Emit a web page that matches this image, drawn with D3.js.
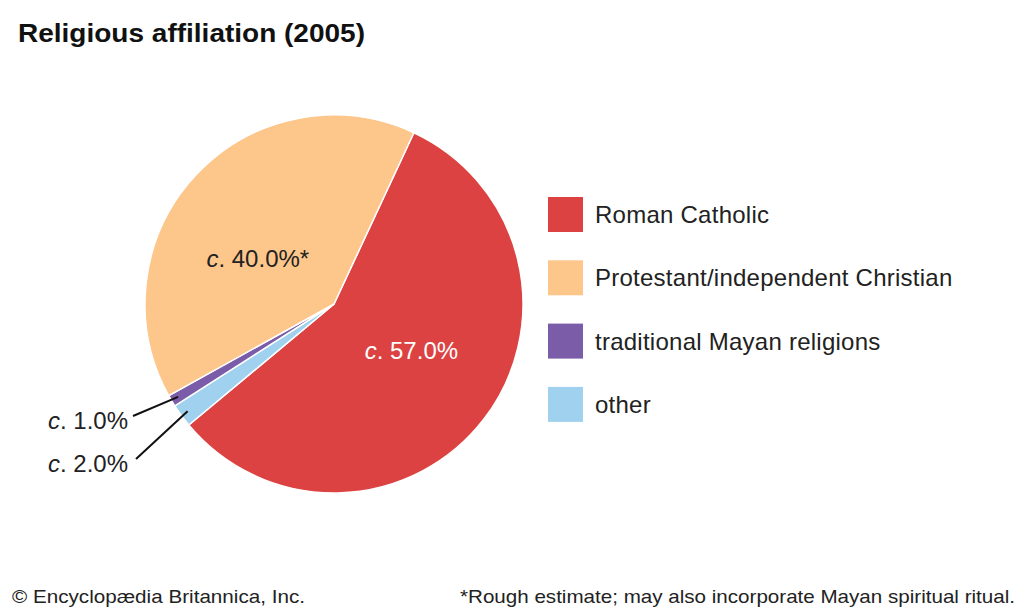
<!DOCTYPE html>
<html>
<head>
<meta charset="utf-8">
<script src="https://cdn.jsdelivr.net/npm/d3@7"></script>
<style>
  body { margin: 0; background: #fff; }
  text { font-family: "Liberation Sans", Arial, sans-serif; }
</style>
</head>
<body>
<script>
// slice order follows the picture, clockwise from the top-right boundary
const categories = ["Roman Catholic", "other", "traditional Mayan religions", "Protestant/independent Christian"];
const values = [57.0, 2.0, 1.0, 40.0];
const labels = ["57.0%", "2.0%", "1.0%", "40.0%*"];
const colors = ["#dc4242", "#a0d1ef", "#7a5ca8", "#fdc68b"];
const legendOrder = ["Roman Catholic", "Protestant/independent Christian", "traditional Mayan religions", "other"];

const W = 1024, H = 614;
const cx = 334, cy = 304, R = 189;

const svg = d3.select("body").append("svg")
  .attr("width", W)
  .attr("height", H);

svg.append("text")
  .attr("x", 18)
  .attr("y", 42)
  .attr("font-size", 26)
  .attr("font-weight", "bold")
  .attr("fill", "#111")
  .attr("textLength", 347)
  .attr("lengthAdjust", "spacingAndGlyphs")
  .text("Religious affiliation (2005)");

const startA = 25 * Math.PI / 180;
const pie = d3.pie()
  .sort(null)
  .startAngle(startA)
  .endAngle(startA + 2 * Math.PI)
  .value((d) => d);

const arcs = pie(values);
const arc = d3.arc().innerRadius(0).outerRadius(R);

const g = svg.append("g").attr("transform", `translate(${cx},${cy})`);

g.selectAll("path")
  .data(arcs)
  .enter()
  .append("path")
  .attr("d", arc)
  .attr("fill", (d, i) => colors[i])
  .attr("stroke", "#fff")
  .attr("stroke-width", 1.5);

// inside labels for the two big slices
const labelArc = d3.arc().innerRadius(R * 0.45).outerRadius(R * 0.45);

function addLabel(sel, txt, fill) {
  sel.append("tspan").attr("font-style", "italic").text("c");
  sel.append("tspan").text(". " + txt);
  sel.attr("fill", fill);
}

const inside = [
  { i: 0, dx: 10, dy: 3, fill: "#fff" },
  { i: 3, dx: -14, dy: 21, fill: "#222" }
];

inside.forEach((o) => {
  const c = labelArc.centroid(arcs[o.i]);
  const t = g.append("text")
    .attr("x", c[0] + o.dx)
    .attr("y", c[1] + o.dy)
    .attr("text-anchor", "middle")
    .attr("font-size", 24);
  addLabel(t, labels[o.i], o.fill);
});

// callouts for the small slices
const calloutArc = d3.arc().innerRadius(R * 0.96).outerRadius(R * 0.96);
const callouts = [
  { i: 2, tx: 133, ty: 416, lx: 48, ly: 429 },
  { i: 1, tx: 136, ty: 459, lx: 48, ly: 472 }
];

callouts.forEach((c) => {
  const p = calloutArc.centroid(arcs[c.i]);
  svg.append("line")
    .attr("x1", c.tx)
    .attr("y1", c.ty)
    .attr("x2", cx + p[0])
    .attr("y2", cy + p[1])
    .attr("stroke", "#111")
    .attr("stroke-width", 2);
  const t = svg.append("text")
    .attr("x", c.lx)
    .attr("y", c.ly)
    .attr("font-size", 24);
  addLabel(t, labels[c.i], "#222");
});

// legend
const legend = svg.append("g").attr("transform", "translate(548,197)");
const items = legend.selectAll("g")
  .data(legendOrder)
  .enter()
  .append("g")
  .attr("transform", (d, i) => `translate(0,${i * 63.3})`);

items.append("rect")
  .attr("width", 35)
  .attr("height", 35)
  .attr("fill", (d) => colors[categories.indexOf(d)]);

items.append("text")
  .attr("x", 47)
  .attr("y", 26)
  .attr("font-size", 24)
  .attr("letter-spacing", 0.25)
  .attr("fill", "#222")
  .text((d) => d);

// footer
svg.append("text")
  .attr("x", 12)
  .attr("y", 603)
  .attr("font-size", 19)
  .attr("fill", "#222")
  .attr("textLength", 293)
  .attr("lengthAdjust", "spacingAndGlyphs")
  .text("© Encyclopædia Britannica, Inc.");

svg.append("text")
  .attr("x", 1015)
  .attr("y", 603)
  .attr("font-size", 19)
  .attr("fill", "#222")
  .attr("text-anchor", "end")
  .attr("textLength", 555)
  .attr("lengthAdjust", "spacingAndGlyphs")
  .text("*Rough estimate; may also incorporate Mayan spiritual ritual.");
</script>
</body>
</html>
